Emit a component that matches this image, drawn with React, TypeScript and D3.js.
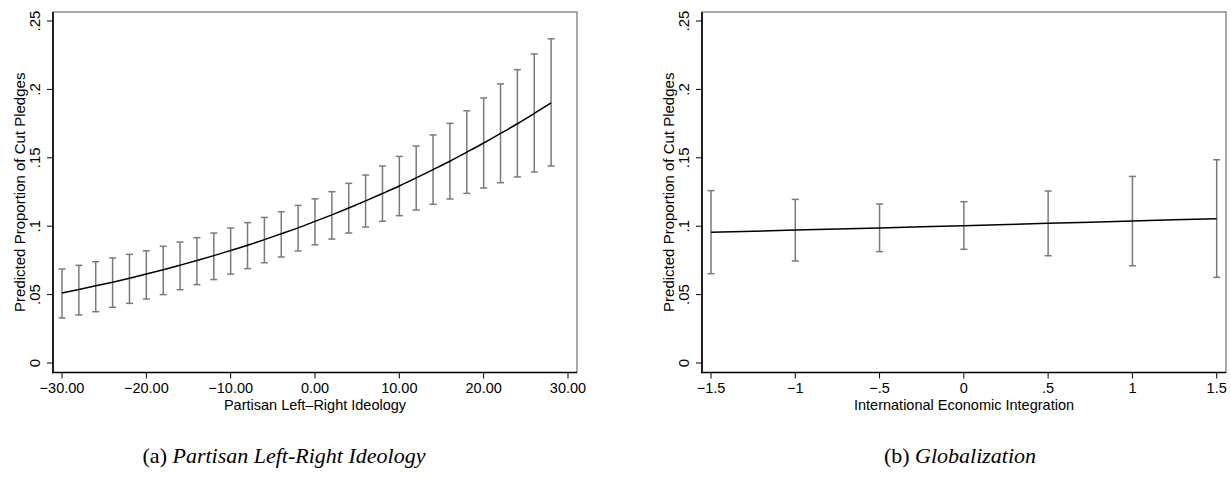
import React from "react";
import * as d3 from "d3";

// ---- Data: panel (a) Partisan Left-Right Ideology ----
const ideologyX = [-30, -28, -26, -24, -22, -20, -18, -16, -14, -12, -10, -8, -6, -4, -2, 0, 2, 4, 6, 8, 10, 12, 14, 16, 18, 20, 22, 24, 26, 28];
const ideologyFit = [0.0512, 0.0538, 0.0564, 0.0591, 0.062, 0.065, 0.0682, 0.0715, 0.0749, 0.0785, 0.0823, 0.0861, 0.0902, 0.0945, 0.0988, 0.1035, 0.1083, 0.1133, 0.1185, 0.1239, 0.1294, 0.1353, 0.1414, 0.1475, 0.1541, 0.1608, 0.1678, 0.1749, 0.1824, 0.1901];
const ideologyLo = [0.0329, 0.0351, 0.0375, 0.0407, 0.0436, 0.0468, 0.05, 0.0536, 0.0573, 0.061, 0.065, 0.069, 0.0733, 0.0775, 0.0819, 0.0864, 0.0906, 0.095, 0.0994, 0.1036, 0.1077, 0.1118, 0.116, 0.1199, 0.124, 0.1279, 0.1318, 0.136, 0.1396, 0.144];
const ideologyHi = [0.0687, 0.0714, 0.074, 0.0768, 0.0794, 0.082, 0.0853, 0.0884, 0.0916, 0.095, 0.0987, 0.1026, 0.1064, 0.1106, 0.1152, 0.12, 0.1252, 0.1313, 0.1374, 0.144, 0.151, 0.1586, 0.1667, 0.1752, 0.1844, 0.1937, 0.204, 0.2144, 0.2259, 0.237];
const ideologyTicks = [-30, -20, -10, 0, 10, 20, 30];
const ideologyTickLabels = ["\u221230.00", "\u221220.00", "\u221210.00", "0.00", "10.00", "20.00", "30.00"];

// ---- Data: panel (b) Globalization ----
const globX = [-1.5, -1, -0.5, 0, 0.5, 1, 1.5];
const globFit = [0.0955, 0.0972, 0.0987, 0.1004, 0.1021, 0.1038, 0.1055];
const globLo = [0.0653, 0.0746, 0.0814, 0.0831, 0.0784, 0.0711, 0.0626];
const globHi = [0.126, 0.1196, 0.1162, 0.1179, 0.1257, 0.1364, 0.1486];
const globTicks = [-1.5, -1, -0.5, 0, 0.5, 1, 1.5];
const globTickLabels = ["\u22121.5", "\u22121", "\u2212.5", "0", ".5", "1", "1.5"];

const yTicks = [0, 0.05, 0.1, 0.15, 0.2, 0.25];
const yTickLabels = ["0", ".05", ".1", ".15", ".2", ".25"];

const yTitle = "Predicted Proportion of Cut Pledges";
const xTitles = ["Partisan Left\u2013Right Ideology", "International Economic Integration"];
const captionPrefix = ["(a) ", "(b) "];
const captionText = ["Partisan Left-Right Ideology", "Globalization"];

const SANS = "'Liberation Sans', Arial, Helvetica, sans-serif";
const SERIF = "'Liberation Serif', 'Times New Roman', serif";

type PanelProps = {
  left: number;
  xs: number[];
  fit: number[];
  lo: number[];
  hi: number[];
  xDomain: [number, number];
  xRange: [number, number];
  ticks: number[];
  tickLabels: string[];
  xTitle: string;
};

const TOP = 12;
const BOTTOM = 372.5;
const WIDTH = 524;

function Panel(p: PanelProps) {
  const x = d3.scaleLinear().domain(p.xDomain).range(p.xRange);
  const y = d3.scaleLinear().domain([0, 0.25]).range([363, 21]);
  const line = d3
    .line<number>()
    .x((_, i) => x(p.xs[i]))
    .y((d) => y(d))
    .curve(d3.curveMonotoneX);
  const L = p.left;
  const R = p.left + WIDTH;
  const cap = 3.5;
  return (
    <g>
      <rect x={L} y={TOP} width={WIDTH} height={BOTTOM - TOP} fill="none" stroke="#555" strokeWidth={1} />
      <line x1={L} x2={L} y1={TOP} y2={BOTTOM + 0.8} stroke="#000" strokeWidth={1.6} />
      <line x1={L - 0.8} x2={R} y1={BOTTOM} y2={BOTTOM} stroke="#000" strokeWidth={1.6} />
      {yTicks.map((t, i) => (
        <g key={"y" + i}>
          <line x1={L - 6} x2={L} y1={y(t)} y2={y(t)} stroke="#000" strokeWidth={1} />
          <text
            transform={`translate(${L - 13},${y(t)}) rotate(-90)`}
            textAnchor="middle"
            fontFamily={SANS}
            fontSize={15}
            fill="#000"
          >
            {yTickLabels[i]}
          </text>
        </g>
      ))}
      <text
        transform={`translate(${L - 28},${(TOP + BOTTOM) / 2}) rotate(-90)`}
        textAnchor="middle"
        fontFamily={SANS}
        fontSize={15}
        fill="#000"
      >
        {yTitle}
      </text>
      {p.ticks.map((t, i) => (
        <g key={"x" + i}>
          <line x1={x(t)} x2={x(t)} y1={BOTTOM} y2={BOTTOM + 6} stroke="#000" strokeWidth={1} />
          <text x={x(t)} y={392.5} textAnchor="middle" fontFamily={SANS} fontSize={14.5} fill="#000">
            {p.tickLabels[i]}
          </text>
        </g>
      ))}
      <text x={(L + R) / 2} y={409.5} textAnchor="middle" fontFamily={SANS} fontSize={14.5} fill="#000">
        {p.xTitle}
      </text>
      {p.xs.map((v, i) => (
        <g key={"e" + i} stroke="#7a7a7a" strokeWidth={1.5}>
          <line x1={x(v)} x2={x(v)} y1={y(p.lo[i])} y2={y(p.hi[i])} />
          <line x1={x(v) - cap} x2={x(v) + cap} y1={y(p.lo[i])} y2={y(p.lo[i])} />
          <line x1={x(v) - cap} x2={x(v) + cap} y1={y(p.hi[i])} y2={y(p.hi[i])} />
        </g>
      ))}
      <path d={line(p.fit) || ""} fill="none" stroke="#000" strokeWidth={1.5} />
    </g>
  );
}

export default function App() {
  return (
    <svg
      width={1231}
      height={477}
      style={{ position: "absolute", left: 0, top: 0, background: "#fff" }}
    >
      <rect width={1231} height={477} fill="#fff" />
      <Panel
        left={53}
        xs={ideologyX}
        fit={ideologyFit}
        lo={ideologyLo}
        hi={ideologyHi}
        xDomain={[-30, 30]}
        xRange={[62, 568]}
        ticks={ideologyTicks}
        tickLabels={ideologyTickLabels}
        xTitle={xTitles[0]}
      />
      <Panel
        left={702}
        xs={globX}
        fit={globFit}
        lo={globLo}
        hi={globHi}
        xDomain={[-1.5, 1.5]}
        xRange={[711, 1216.7]}
        ticks={globTicks}
        tickLabels={globTickLabels}
        xTitle={xTitles[1]}
      />
      <text x={284} y={463} textAnchor="middle" fontFamily={SERIF} fontSize={22} fill="#000">
        {captionPrefix[0]}
        <tspan fontStyle="italic">{captionText[0]}</tspan>
      </text>
      <text x={960} y={463} textAnchor="middle" fontFamily={SERIF} fontSize={22} fill="#000">
        {captionPrefix[1]}
        <tspan fontStyle="italic">{captionText[1]}</tspan>
      </text>
    </svg>
  );
}
